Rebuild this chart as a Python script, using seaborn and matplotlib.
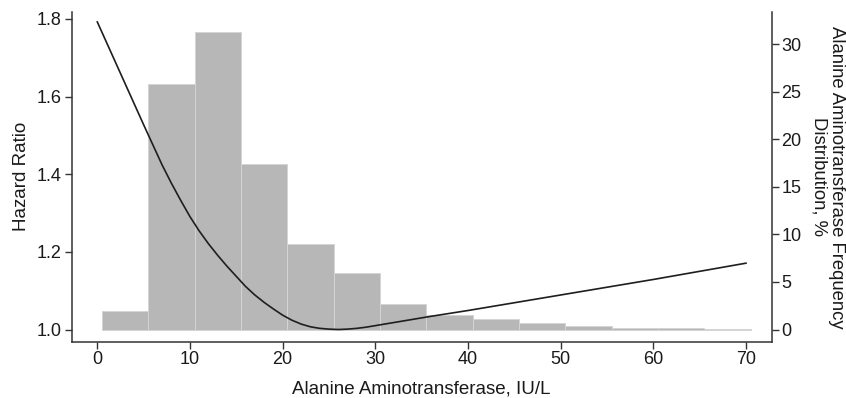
import numpy as np
import pandas as pd
import seaborn as sns
import matplotlib
matplotlib.use("Agg")
import matplotlib.pyplot as plt

# ---- data ----
bin_edges = [0.5, 5.5, 10.5, 15.5, 20.5, 25.5, 30.5, 35.5, 40.5, 45.5, 50.5, 55.5, 60.5, 65.5, 70.5]
freq_pct = [1.95, 25.8, 31.3, 17.4, 9.0, 5.95, 2.7, 1.5, 1.08, 0.72, 0.4, 0.19, 0.19, 0.09]

alt_x = [0, 1, 2, 3, 4, 5, 6, 7, 8, 9, 10, 11, 12, 13, 14, 15, 16, 17, 18, 19, 20,
         21, 22, 23, 24, 25, 26, 27, 28, 29, 30, 32, 34, 36, 40, 45, 50, 55, 60, 65, 70]
hazard = [1.793, 1.740, 1.687, 1.634, 1.581, 1.528, 1.476, 1.424, 1.377, 1.333, 1.291,
          1.254, 1.221, 1.191, 1.163, 1.137, 1.111, 1.089, 1.070, 1.053, 1.037,
          1.024, 1.014, 1.007, 1.003, 1.001, 1.000, 1.001, 1.003, 1.006, 1.010,
          1.018, 1.026, 1.034, 1.049, 1.069, 1.089, 1.109, 1.129, 1.150, 1.171]

x_ticks = [0, 10, 20, 30, 40, 50, 60, 70]
hr_ticks = [1.0, 1.2, 1.4, 1.6, 1.8]
pct_ticks = [0, 5, 10, 15, 20, 25, 30]

sns.set_style("ticks")
plt.rcParams['font.family'] = ['Liberation Sans', 'DejaVu Sans']

fig = plt.figure(figsize=(8.46, 3.98), dpi=100)
ax = fig.add_axes([71.7 / 846, 1 - 341.7 / 398, 700 / 846, 329.7 / 398])
ax2 = ax.twinx()

centers = [(bin_edges[i] + bin_edges[i + 1]) / 2 for i in range(len(freq_pct))]
hist_df = pd.DataFrame({"alt": centers, "pct": freq_pct})
sns.histplot(data=hist_df, x="alt", weights="pct", bins=bin_edges, ax=ax2,
             color="#b7b7b7", alpha=1, edgecolor="#d4d4d4", linewidth=0.7)

line_df = pd.DataFrame({"alt": alt_x, "hr": hazard})
sns.lineplot(data=line_df, x="alt", y="hr", ax=ax, color="#1e1e1e", linewidth=1.2)

ax.set_zorder(ax2.get_zorder() + 1)
ax.patch.set_visible(False)

ax.set_xlim(-2.75, 72.75)
ax.set_ylim(0.9686, 1.818)
ax2.set_ylim(-1.28, 33.4)

ax.set_xticks(x_ticks)
ax.set_xticklabels([str(t) for t in x_ticks])
ax.set_yticks(hr_ticks)
ax.set_yticklabels([f"{t:.1f}" for t in hr_ticks])
ax2.set_yticks(pct_ticks)
ax2.set_yticklabels([str(t) for t in pct_ticks])

spine_c = "#333333"
for a in (ax, ax2):
    for s in a.spines.values():
        s.set_color(spine_c)
        s.set_linewidth(1.1)
    a.spines['top'].set_visible(False)
    a.tick_params(colors=spine_c, labelcolor="#1a1a1a", length=5, width=1.0,
                  labelsize=13, pad=2)
ax.spines['right'].set_visible(False)
ax2.spines['left'].set_visible(False)
ax2.spines['bottom'].set_visible(False)

ax.set_xlabel("Alanine Aminotransferase, IU/L", fontsize=13.5, color="#1a1a1a", labelpad=9)
ax.set_ylabel("Hazard Ratio", fontsize=13.5, color="#1a1a1a", labelpad=5)
ax2.set_ylabel("Alanine Aminotransferase Frequency\nDistribution, %", fontsize=13.3,
               color="#1a1a1a", rotation=270, labelpad=31, linespacing=1.0, ha="center")

fig.savefig("out.png", dpi=100)
